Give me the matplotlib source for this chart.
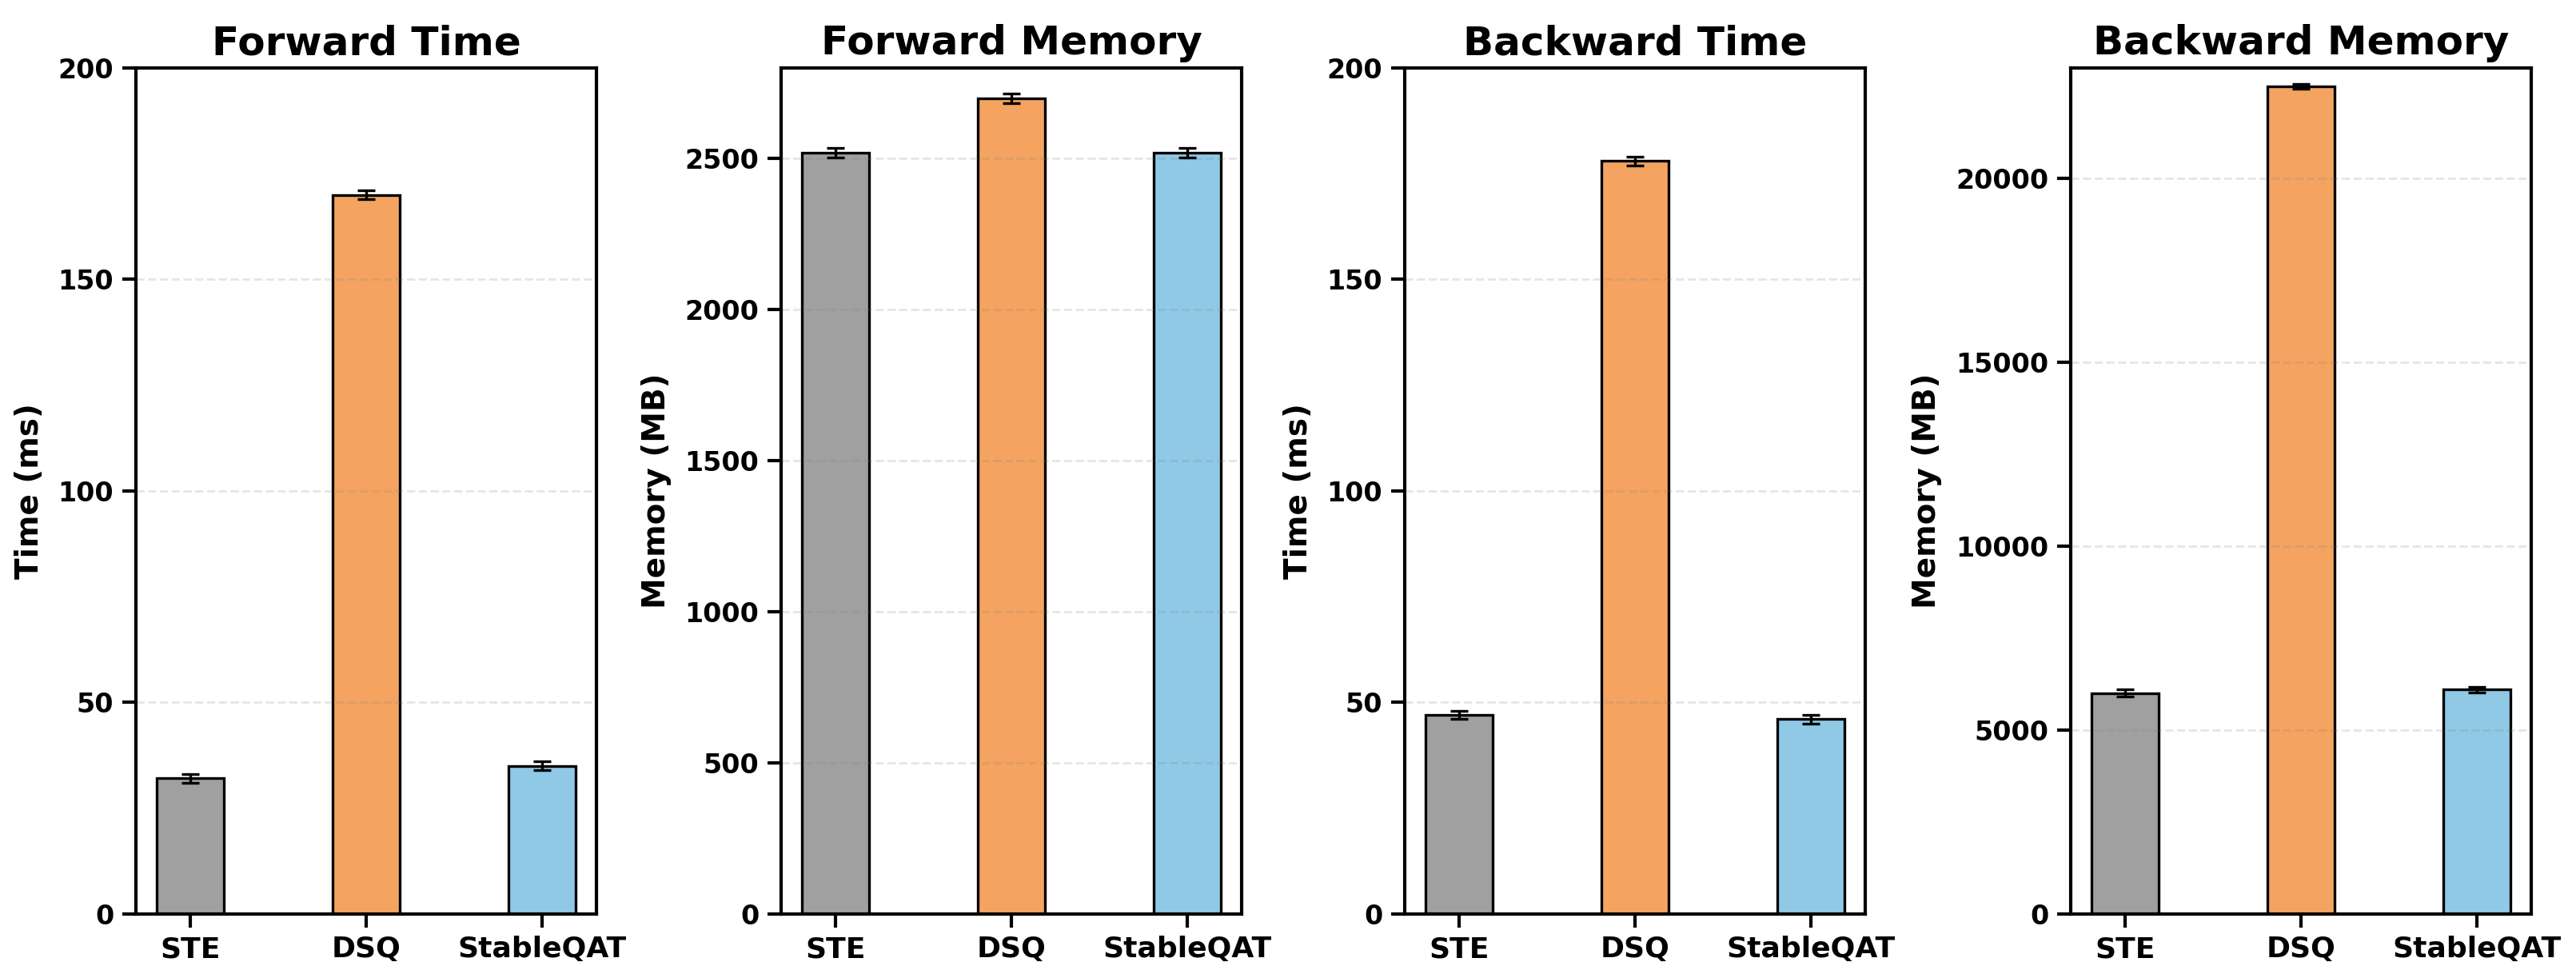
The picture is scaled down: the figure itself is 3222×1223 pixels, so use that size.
import matplotlib
matplotlib.use("Agg")
import matplotlib.pyplot as plt
from matplotlib.ticker import MultipleLocator
import numpy as np

methods = ["STE", "DSQ", "StableQAT"]
colors = ["#A0A0A0", "#F4A460", "#8FC9E6"]

titles = ["Forward Time", "Forward Memory", "Backward Time", "Backward Memory"]
ylabels = ["Time (ms)", "Memory (MB)", "Time (ms)", "Memory (MB)"]

forward_time = [32, 170, 35]
forward_time_err = [1.0, 1.0, 1.0]
forward_memory = [2520, 2700, 2520]
forward_memory_err = [16, 16, 16]
backward_time = [47, 178, 46]
backward_time_err = [1.0, 1.1, 1.0]
backward_memory = [6000, 22500, 6100]
backward_memory_err = [95, 75, 80]

ylims = [200, 2800, 200, 23000]
ysteps = [50, 500, 50, 5000]

plt.rcParams["font.family"] = ["DejaVu Sans"]
plt.rcParams["font.weight"] = "bold"

W, H = 3222, 1223
fig = plt.figure(figsize=(W / 200, H / 200), dpi=200)

lefts_px = [170, 977, 1757, 2590]
ax_w_px = 576
top_px, bottom_px = 85, 1142.7

series = [
    (forward_time, forward_time_err),
    (forward_memory, forward_memory_err),
    (backward_time, backward_time_err),
    (backward_memory, backward_memory_err),
]

x = np.arange(len(methods))
for i, (vals, errs) in enumerate(series):
    ax = fig.add_axes([lefts_px[i] / W, 1 - bottom_px / H,
                       ax_w_px / W, (bottom_px - top_px) / H])
    ax.bar(x, vals, width=0.38, color=colors, edgecolor="black", linewidth=1.2,
           yerr=errs, capsize=4,
           error_kw=dict(elinewidth=1.2, capthick=1.2, ecolor="black"))
    ax.set_xticks(x)
    ax.set_xticklabels(methods, fontsize=13, fontweight="bold")
    ax.set_ylim(0, ylims[i])
    ax.yaxis.set_major_locator(MultipleLocator(ysteps[i]))
    ax.set_xlim(-0.31, 2.31)
    ax.set_title(titles[i], fontsize=18, fontweight="bold", pad=6)
    ax.set_ylabel(ylabels[i], fontsize=14, fontweight="bold", labelpad=6)
    ax.tick_params(axis="both", length=6, width=1.5, pad=4)
    ax.tick_params(axis="y", labelsize=12)
    for lab in ax.get_yticklabels():
        lab.set_fontweight("bold")
    for s in ax.spines.values():
        s.set_linewidth(1.5)
    ax.yaxis.grid(True, linestyle="--", linewidth=1.0, color="gray", alpha=0.2)
    ax.xaxis.grid(False)

fig.savefig("out.png", dpi=200)
